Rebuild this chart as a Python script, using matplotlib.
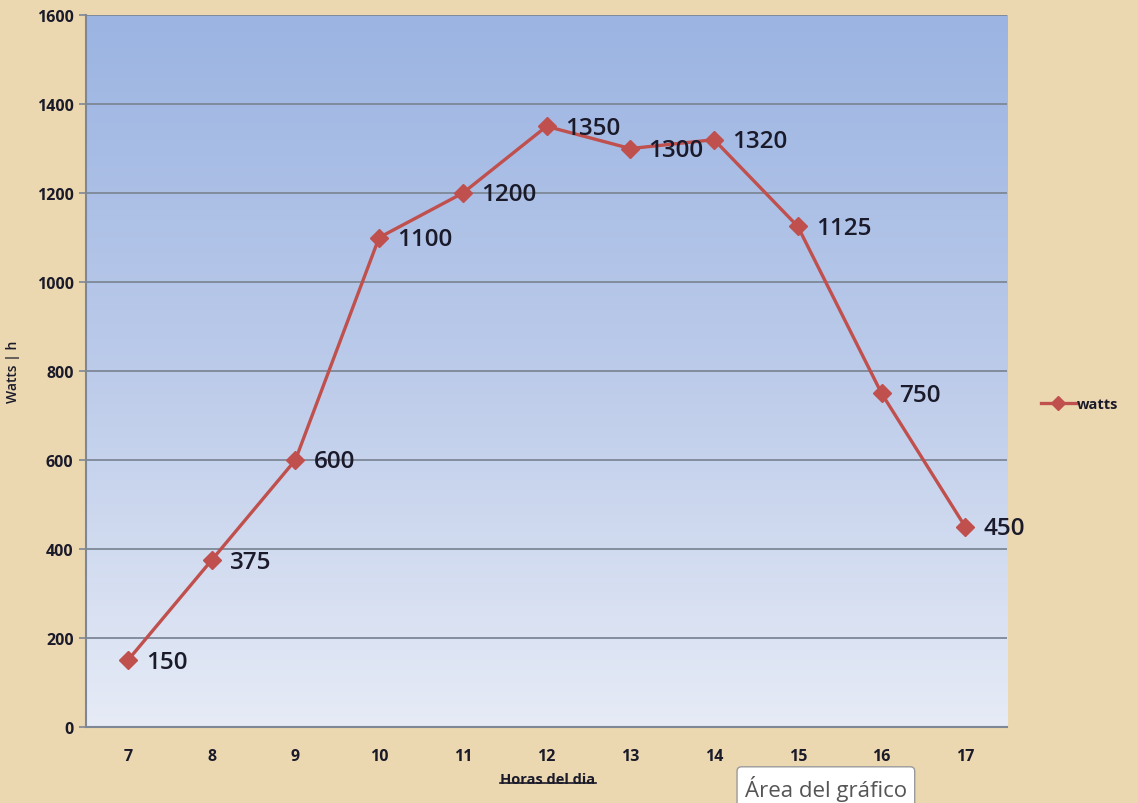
import numpy as np
import matplotlib.pyplot as plt
from matplotlib.colors import LinearSegmentedColormap
from matplotlib.lines import Line2D

hours = ["7", "8", "9", "10", "11", "12", "13", "14", "15", "16", "17"]
watts = [150, 375, 600, 1100, 1200, 1350, 1300, 1320, 1125, 750, 450]
y_ticks = [0, 200, 400, 600, 800, 1000, 1200, 1400, 1600]

LINE_RED = "#c0504d"
PAGE_TAN = "#ecd8b0"
GRID_GREY = "#7d8796"
TEXT_DARK = "#1a1a2a"

fig = plt.figure(figsize=(11.38, 8.04), dpi=100, facecolor=PAGE_TAN)
ax = fig.add_axes([0.0756, 0.0945, 0.8094, 0.8855])

x = np.arange(len(hours))
ax.set_xlim(-0.5, len(hours) - 0.5)
ax.set_ylim(0, 1600)

# vertical gradient fill of the plot area
grad_cmap = LinearSegmentedColormap.from_list("plotarea", ["#e6ebf6", "#bccbea", "#9bb4e2"])
grad = np.linspace(0, 1, 256).reshape(-1, 1)
ax.imshow(grad, cmap=grad_cmap, origin="lower", aspect="auto",
          extent=[-0.5, len(hours) - 0.5, 0, 1600], zorder=0)

for yv in y_ticks[1:]:
    ax.axhline(yv, color=GRID_GREY, lw=1.3, zorder=1)

ax.plot(x, watts, color=LINE_RED, lw=2.4, marker="D", markersize=9,
        markerfacecolor=LINE_RED, markeredgecolor=LINE_RED, zorder=3)

for xi, v in zip(x, watts):
    ax.annotate(str(v), (xi, v), xytext=(13, -1), textcoords="offset points",
                ha="left", va="center", fontsize=17.5, fontfamily="Open Sans",
                fontweight="semibold", color=TEXT_DARK, zorder=4)

ax.set_xticks(x)
ax.set_xticklabels(hours)
ax.set_yticks(y_ticks)
ax.tick_params(axis="x", length=0, pad=15)
ax.tick_params(axis="y", length=5, width=1.2, color=GRID_GREY, pad=4)
for lab in ax.get_xticklabels() + ax.get_yticklabels():
    lab.set_fontfamily("Open Sans")
    lab.set_fontweight("bold")
    lab.set_fontsize(11.5)
    lab.set_color(TEXT_DARK)

for side in ["top", "right"]:
    ax.spines[side].set_visible(False)
for side in ["left", "bottom"]:
    ax.spines[side].set_color(GRID_GREY)
    ax.spines[side].set_linewidth(1.5)

# axis titles
fig.text(0.011, 0.537, "Watts | h", rotation=90, ha="center", va="center",
         fontsize=10, fontfamily="Open Sans", fontweight="semibold", color=TEXT_DARK)
xl = fig.text(0.4815, 0.030, "Horas del dia", ha="center", va="center",
              fontsize=10.5, fontfamily="Open Sans", fontweight="bold", color=TEXT_DARK)
fig.canvas.draw()
bb = xl.get_window_extent().transformed(fig.transFigure.inverted())
fig.add_artist(Line2D([bb.x0, bb.x1], [bb.y0 + 0.004, bb.y0 + 0.004],
                      transform=fig.transFigure, color=TEXT_DARK, lw=1.2))

# legend
leg = fig.legend(handles=[Line2D([], [], color=LINE_RED, lw=2.4, marker="D",
                                 markersize=7, label="watts")],
                 loc="center left", bbox_to_anchor=(0.903, 0.496), frameon=False,
                 handlelength=2.4, handletextpad=0.1,
                 prop={"family": "Open Sans", "weight": "bold", "size": 10.5})
for t in leg.get_texts():
    t.set_color(TEXT_DARK)

# chart-area tooltip
fig.text(0.6545, 0.003, "Área del gráfico", ha="left", va="bottom",
         fontsize=16, fontfamily="Open Sans", color="#555555",
         bbox=dict(boxstyle="round,pad=0.35,rounding_size=0.2", fc="white",
                   ec="#9a9a9a", lw=1))

fig.savefig("out.png", dpi=100, facecolor=PAGE_TAN)
